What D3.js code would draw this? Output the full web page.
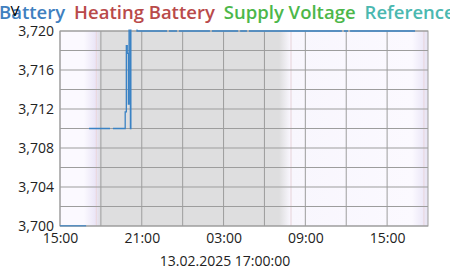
<!DOCTYPE html>
<meta charset="utf-8">
<head>
    <title>Battery voltage</title>
    <script type="text/javascript" src="https://cdn.jsdelivr.net/npm/d3@7/dist/d3.min.js"></script>
    <style>
        body { margin: 0; padding: 0; background: #fff; }
        svg { display: block; font-family: "Open Sans", sans-serif; }
    </style>
</head>

<body>
    <script>
        const width = 450, height = 270;
        const margin = ({top: 31, right: 22, bottom: 44, left: 60});

        // legend entries
        const seriesNames = ["Battery", "Heating Battery", "Supply Voltage", "Reference"];
        const seriesColors = ["#3f80bf", "#b94a4a", "#4cb74a", "#4ab8b0"];

        // Battery readings ("null" = no data)
        const battTimes = [
            "2025-02-12 15:00", "2025-02-12 16:55", "2025-02-12 16:56",
            "2025-02-12 17:08", "2025-02-12 18:40", "2025-02-12 18:41",
            "2025-02-12 18:53", "2025-02-12 19:42", "2025-02-12 19:47",
            "2025-02-12 19:52", "2025-02-12 19:56", "2025-02-12 20:01",
            "2025-02-12 20:04", "2025-02-12 20:10", "2025-02-12 20:12",
            "2025-02-12 20:39", "2025-02-12 22:51", "2025-02-12 22:52",
            "2025-02-12 23:00", "2025-02-12 23:35", "2025-02-12 23:36",
            "2025-02-12 23:44", "2025-02-13 02:00", "2025-02-13 02:01",
            "2025-02-13 02:09", "2025-02-13 04:04", "2025-02-13 04:05",
            "2025-02-13 04:13", "2025-02-13 04:43", "2025-02-13 04:44",
            "2025-02-13 04:52", "2025-02-13 11:41", "2025-02-13 11:42",
            "2025-02-13 11:50", "2025-02-13 12:08", "2025-02-13 12:09",
            "2025-02-13 12:17", "2025-02-13 17:03"
        ];
        const battValues = [
            3.700, 3.700, null,
            3.710, 3.710, null,
            3.710, 3.710, 3.7117,
            3.7185, 3.7177, 3.7125,
            3.7235, 3.710, 3.7235,
            3.720, 3.720, null,
            3.720, 3.720, null,
            3.720, 3.720, null,
            3.720, 3.720, null,
            3.720, 3.720, null,
            3.720, 3.720, null,
            3.720, 3.720, null,
            3.720, 3.720
        ];

        // day / night shading
        const shadeTimes = [
            "2025-02-12 15:00", "2025-02-12 16:45", "2025-02-12 17:40", "2025-02-12 18:00",
            "2025-02-13 07:05", "2025-02-13 07:52", "2025-02-13 16:50", "2025-02-13 17:42",
            "2025-02-13 18:00"
        ];
        const shadeColors = [
            "#fbf9ff", "#fbf9ff", "#e9e4f6", "#dededf",
            "#dededf", "#f8f6fd", "#fbf9ff", "#ebe7f7",
            "#e7e4f2"
        ];
        const sunTimes = ["2025-02-12 17:40", "2025-02-13 07:57", "2025-02-13 17:42"];

        const xTicks = ["2025-02-12 15:00", "2025-02-12 21:00", "2025-02-13 03:00", "2025-02-13 09:00", "2025-02-13 15:00"];
        const yTicks = [3.700, 3.704, 3.708, 3.712, 3.716, 3.720];
        const footerText = "13.02.2025 17:00:00";

        const parse = d3.timeParse("%Y-%m-%d %H:%M");
        const deLocale = d3.formatLocale({decimal: ",", thousands: ".", grouping: [3], currency: ["", " €"]});
        const fmtV = deLocale.format(".3f");

        const svg = d3.select("body")
            .append("svg")
            .attr("width", width)
            .attr("height", height);

        const x = d3.scaleTime()
            .domain([parse("2025-02-12 15:00"), parse("2025-02-13 18:00")])
            .range([margin.left, width - margin.right]);
        const y = d3.scaleLinear()
            .domain([3.700, 3.720])
            .range([height - margin.bottom, margin.top]);

        const x0 = x.range()[0], x1 = x.range()[1];
        const defs = svg.append("defs");

        // background gradient
        const grad = defs.append("linearGradient")
            .attr("id", "shade")
            .attr("gradientUnits", "userSpaceOnUse")
            .attr("x1", x0).attr("x2", x1)
            .attr("y1", 0).attr("y2", 0);
        grad.selectAll("stop")
            .data(shadeTimes.map((t, i) => ({t: parse(t), c: shadeColors[i]})))
            .enter()
            .append("stop")
            .attr("offset", d => (x(d.t) - x0) / (x1 - x0))
            .attr("stop-color", d => d.c);

        defs.append("clipPath")
            .attr("id", "plotclip")
            .append("rect")
            .attr("x", x0).attr("y", y(3.720) - 1.5)
            .attr("width", x1 - x0).attr("height", y(3.700) - y(3.720) + 2);

        svg.append("rect")
            .attr("x", x0).attr("y", y(3.720))
            .attr("width", x1 - x0).attr("height", y(3.700) - y(3.720))
            .attr("fill", "url(#shade)");

        svg.append("g")
            .selectAll("line")
            .data(sunTimes.map(parse))
            .enter()
            .append("line")
            .attr("x1", d => x(d)).attr("x2", d => x(d))
            .attr("y1", y(3.720)).attr("y2", y(3.700))
            .attr("stroke", "#ead8df")
            .attr("stroke-width", 1.2);

        // grid
        const grid = svg.append("g").attr("stroke", "#9d9d9d").attr("stroke-width", 1);
        grid.selectAll(".vx")
            .data(d3.timeHour.every(3).range(x.domain()[0], x.domain()[1]))
            .enter()
            .append("line")
            .attr("x1", d => x(d)).attr("x2", d => x(d))
            .attr("y1", y(3.720)).attr("y2", y(3.700));
        grid.selectAll(".hy")
            .data(d3.range(0, 11).map(i => 3.700 + i * 0.002))
            .enter()
            .append("line")
            .attr("x1", x0).attr("x2", x1)
            .attr("y1", d => y(d)).attr("y2", d => y(d));
        grid.append("rect")
            .attr("x", x0).attr("y", y(3.720))
            .attr("width", x1 - x0).attr("height", y(3.700) - y(3.720))
            .attr("fill", "none");

        // battery line
        const battData = battTimes.map((t, i) => ({t: parse(t), v: battValues[i]}));
        const line = d3.line()
            .defined(d => d.v !== null)
            .curve(d3.curveStepAfter)
            .x(d => x(d.t))
            .y(d => y(d.v));
        svg.append("path")
            .datum(battData)
            .attr("clip-path", "url(#plotclip)")
            .attr("fill", "none")
            .attr("stroke", "#3a82c4")
            .attr("stroke-width", 1.3)
            .attr("d", line);

        // axes
        const yAxis = svg.append("g")
            .attr("transform", `translate(${x0},0)`)
            .call(d3.axisLeft(y).tickValues(yTicks).tickFormat(fmtV).tickSize(0).tickPadding(6));
        yAxis.select(".domain").remove();
        yAxis.selectAll("text")
            .attr("font-family", "Open Sans")
            .attr("font-size", 14)
            .attr("fill", "#222");

        const xAxis = svg.append("g")
            .attr("transform", `translate(0,${y(3.700)})`)
            .call(d3.axisBottom(x).tickValues(xTicks.map(parse)).tickFormat(d3.timeFormat("%H:%M")).tickSize(0).tickPadding(7));
        xAxis.select(".domain").remove();
        xAxis.selectAll("text")
            .attr("font-family", "Open Sans")
            .attr("font-size", 14)
            .attr("fill", "#222");

        svg.append("text")
            .attr("x", width / 2)
            .attr("y", 266)
            .attr("text-anchor", "middle")
            .attr("font-size", 14)
            .attr("fill", "#222")
            .text(footerText);

        // legend, runs past both edges like the original
        const legend = svg.append("g");
        const items = legend.selectAll("text")
            .data(seriesNames)
            .enter()
            .append("text")
            .attr("y", 19)
            .attr("font-size", 18.5)
            .attr("font-weight", 600)
            .attr("fill", (d, i) => seriesColors[i])
            .text(d => d);
        const gap = 9;
        const widths = [];
        items.each(function() { widths.push(this.getComputedTextLength()); });
        let cx = -1;
        items.attr("x", (d, i) => {
            const pos = cx;
            cx += widths[i] + gap;
            return pos;
        });

        svg.append("text")
            .attr("x", 15)
            .attr("y", 16)
            .attr("text-anchor", "middle")
            .attr("font-size", 15)
            .attr("fill", "#000")
            .text("V");
    </script>
</body>
</html>
